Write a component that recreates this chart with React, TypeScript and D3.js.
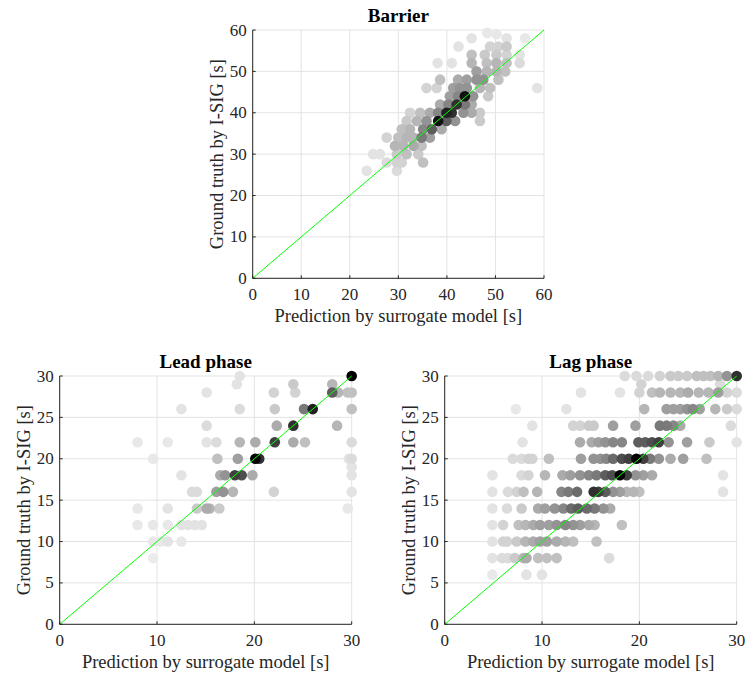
import React from "react";
import * as d3 from "d3";

// [prediction, ground truth, shade (0 light .. 1 dark)]
const barrierPoints: [number, number, number][] = [
  [48.3, 59.3, 0.05], [50.2, 59, 0.05],
  [45.1, 58, 0.1], [52.3, 58, 0.1], [56.1, 58, 0.05],
  [42.4, 56, 0.1], [48.9, 56, 0.2], [50.6, 56, 0.2], [52.3, 56, 0.25],
  [45.1, 54, 0.3], [47.8, 54, 0.25], [50.2, 54, 0.25], [52.3, 54, 0.2], [55, 54, 0.1],
  [38.1, 52, 0.1], [41, 52, 0.1], [45.1, 52, 0.35], [48.2, 52, 0.3], [50.2, 52, 0.35], [52.3, 52, 0.3], [55, 52, 0.15],
  [46.1, 50, 0.45], [48.2, 50, 0.35], [50.2, 50, 0.35], [52.0, 50, 0.3],
  [38.6, 48, 0.3], [42.3, 48, 0.4], [44.1, 48, 0.45], [46.1, 48, 0.5], [47.5, 48, 0.5], [50.6, 48, 0.3],
  [35.8, 46, 0.2], [37.9, 46, 0.2], [41.3, 46, 0.45], [42.7, 46, 0.5], [44.1, 46, 0.5], [46.8, 46, 0.35], [48.9, 46, 0.3], [58.6, 46, 0.1],
  [40.6, 44, 0.45], [42.3, 44, 0.55], [43.7, 44, 0.95], [45.4, 44, 0.5], [48.5, 44, 0.25],
  [38.6, 42, 0.4], [40.3, 42, 0.55], [42.0, 42, 0.85], [43.7, 42, 0.6], [45.1, 42, 0.4],
  [32.4, 40, 0.2], [34.5, 40, 0.3], [36.5, 40, 0.4], [38.2, 40, 0.55], [39.9, 40, 0.9], [41, 40, 0.85], [43.4, 40, 0.5], [45.1, 40, 0.4], [46.8, 40, 0.25],
  [31.7, 38, 0.25], [33.8, 38, 0.35], [35.8, 38, 0.5], [38.2, 38, 0.95], [39.9, 38, 0.7], [41.7, 38, 0.5], [46.8, 38, 0.25],
  [30.7, 36, 0.3], [32.4, 36, 0.35], [35.1, 36, 0.55], [36.9, 36, 0.7], [38.9, 36, 0.4],
  [27.6, 34, 0.2], [30.0, 34, 0.3], [31.7, 34, 0.35], [33.1, 34, 0.35], [34.8, 34, 0.6], [36.5, 34, 0.45],
  [29.3, 32, 0.35], [31.0, 32, 0.35], [33.1, 32, 0.4], [34.8, 32, 0.3],
  [24.8, 30, 0.1], [26.2, 30, 0.1], [29.7, 30, 0.25], [31.7, 30, 0.3], [34.1, 30, 0.25],
  [27.6, 28, 0.15], [29.7, 28, 0.2], [30.7, 28, 0.2], [35.1, 28, 0.3],
  [23.5, 26, 0.1], [29.7, 26, 0.15],
];

const leadPoints: [number, number, number][] = [
  [18.5, 30, 0.1], [30, 30, 1.0],
  [18.2, 29, 0.1], [24, 29, 0.25], [28, 29, 0.35],
  [15.1, 28, 0.1], [22, 28, 0.2], [24.2, 28, 0.2], [28, 28, 0.7], [28.6, 28, 0.35], [29.6, 28, 0.3], [30, 28, 0.3],
  [12.5, 26, 0.1], [18.5, 26, 0.15], [22.1, 26, 0.25], [25.1, 26, 0.6], [26, 26, 0.9], [30, 26, 0.3],
  [15.1, 24, 0.15], [22.3, 24, 0.4], [24, 24, 0.85], [28.5, 24, 0.35],
  [8, 22, 0.05], [11.1, 22, 0.05], [15.1, 22, 0.1], [16.1, 22, 0.15], [18.5, 22, 0.35], [20.1, 22, 0.4], [22.1, 22, 0.8], [24, 22, 0.4], [25.2, 22, 0.3], [30, 22, 0.15],
  [9.6, 20, 0.05], [16.2, 20, 0.3], [18.3, 20, 0.45], [20.5, 20, 0.85], [20.1, 20, 1.0], [29.7, 20, 0.1], [30, 20, 0.15],
  [30, 19, 0.1],
  [12.5, 18, 0.1], [16.5, 18, 0.4], [17, 18, 0.5], [18, 18, 0.8], [18.7, 18, 0.75], [19.8, 18, 0.4], [30, 18, 0.1],
  [13.6, 16, 0.15], [14.1, 16, 0.15], [16.1, 16, 0.45], [16.8, 16, 0.5], [17.8, 16, 0.35], [22, 16, 0.2], [30, 16, 0.1],
  [8, 14, 0.05], [11.1, 14, 0.1], [14.1, 14, 0.25], [15.1, 14, 0.4], [15.4, 14, 0.35], [16.4, 14, 0.25], [29.6, 14, 0.05],
  [8, 12, 0.05], [9.6, 12, 0.05], [11.1, 12, 0.05], [12.5, 12, 0.1], [13.2, 12, 0.1], [13.9, 12, 0.1], [14.6, 12, 0.1],
  [9.6, 10, 0.05], [10.4, 10, 0.05], [11.1, 10, 0.1], [12.5, 10, 0.05],
  [9.6, 8, 0.02],
];

const lagPoints: [number, number, number][] = [
  [18.5, 30, 0.15], [19.7, 30, 0.15], [20.9, 30, 0.15], [22.1, 30, 0.2], [23.2, 30, 0.25], [24.0, 30, 0.25], [24.9, 30, 0.25], [25.9, 30, 0.3], [26.6, 30, 0.3], [27.3, 30, 0.3], [28.1, 30, 0.35], [29.0, 30, 0.5], [30, 30, 0.85],
  [20.2, 29, 0.2], [28.3, 29, 0.15],
  [14.0, 28, 0.1], [18.0, 28, 0.1], [20.0, 28, 0.2], [21.3, 28, 0.3], [22.1, 28, 0.35], [23.2, 28, 0.35], [24.2, 28, 0.35], [25.0, 28, 0.4], [26.1, 28, 0.35], [27.1, 28, 0.35], [28.1, 28, 0.45], [29, 28, 0.2], [30, 28, 0.15],
  [7.3, 26, 0.05], [12.5, 26, 0.1], [20.5, 26, 0.35], [22.8, 26, 0.45], [23.5, 26, 0.45], [24.2, 26, 0.45], [24.9, 26, 0.5], [25.5, 26, 0.55], [26.2, 26, 0.45], [27.8, 26, 0.35], [29, 26, 0.25], [30, 26, 0.15],
  [9.0, 24, 0.1], [13.2, 24, 0.2], [13.9, 24, 0.2], [14.8, 24, 0.25], [15.3, 24, 0.25], [17.3, 24, 0.45], [19.6, 24, 0.45], [22.1, 24, 0.6], [22.8, 24, 0.6], [23.5, 24, 0.55], [24.2, 24, 0.4], [29.4, 24, 0.15],
  [8.0, 22, 0.1], [13.9, 22, 0.4], [15.1, 22, 0.4], [15.8, 22, 0.45], [16.5, 22, 0.5], [17.3, 22, 0.55], [18.2, 22, 0.55], [19.9, 22, 0.7], [20.6, 22, 0.7], [21.3, 22, 0.75], [22.0, 22, 0.8], [23.0, 22, 0.5], [24.9, 22, 0.45], [27.2, 22, 0.25], [30, 22, 0.1],
  [7.0, 20, 0.15], [7.9, 20, 0.15], [8.6, 20, 0.2], [9.0, 20, 0.2], [10.7, 20, 0.3], [14.0, 20, 0.45], [15.3, 20, 0.5], [16.0, 20, 0.5], [16.6, 20, 0.55], [17.3, 20, 0.65], [18.2, 20, 0.75], [18.9, 20, 0.8], [19.7, 20, 1.0], [20.4, 20, 0.8], [21.1, 20, 0.6], [22.0, 20, 0.5], [23.2, 20, 0.4], [24.5, 20, 0.45], [26.9, 20, 0.3],
  [4.9, 18, 0.1], [7.9, 18, 0.15], [8.6, 18, 0.2], [10.3, 18, 0.35], [12.1, 18, 0.4], [12.9, 18, 0.45], [13.9, 18, 0.5], [14.8, 18, 0.55], [15.6, 18, 0.6], [16.5, 18, 0.7], [17.2, 18, 0.75], [18.0, 18, 1.0], [18.7, 18, 0.8], [19.6, 18, 0.5], [20.4, 18, 0.45], [21.3, 18, 0.4], [28.6, 18, 0.1],
  [4.9, 16, 0.1], [6.5, 16, 0.15], [7.4, 16, 0.2], [8.1, 16, 0.3], [9.5, 16, 0.35], [12.0, 16, 0.55], [12.7, 16, 0.6], [13.6, 16, 0.65], [15.3, 16, 0.85], [15.8, 16, 0.8], [16.5, 16, 0.7], [17.3, 16, 0.5], [18.0, 16, 0.45], [18.7, 16, 0.35], [19.4, 16, 0.35], [20.0, 16, 0.3], [28.6, 16, 0.1],
  [4.9, 14, 0.1], [6.4, 14, 0.15], [7.9, 14, 0.25], [9.6, 14, 0.4], [10.3, 14, 0.45], [11.3, 14, 0.5], [12.2, 14, 0.55], [13.0, 14, 0.65], [13.7, 14, 0.7], [14.6, 14, 0.65], [15.4, 14, 0.6], [16.3, 14, 0.5], [17.0, 14, 0.4],
  [4.9, 12, 0.1], [6.0, 12, 0.2], [7.6, 12, 0.3], [8.3, 12, 0.35], [9.1, 12, 0.4], [9.8, 12, 0.45], [10.7, 12, 0.45], [11.5, 12, 0.5], [12.4, 12, 0.55], [13.2, 12, 0.5], [13.9, 12, 0.45], [14.8, 12, 0.4], [15.4, 12, 0.35], [18.2, 12, 0.3],
  [4.9, 10, 0.1], [6.0, 10, 0.2], [6.4, 10, 0.2], [7.4, 10, 0.25], [8.3, 10, 0.35], [9.1, 10, 0.4], [9.8, 10, 0.45], [10.5, 10, 0.45], [11.5, 10, 0.4], [12.4, 10, 0.35], [13.2, 10, 0.3], [15.6, 10, 0.3],
  [4.9, 8, 0.1], [5.9, 8, 0.15], [6.5, 8, 0.15], [7.2, 8, 0.25], [8.1, 8, 0.35], [8.4, 8, 0.4], [9.6, 8, 0.3], [10.5, 8, 0.3], [11.5, 8, 0.3], [16.9, 8, 0.15],
  [4.9, 6, 0.05], [8.4, 6, 0.1], [10.0, 6, 0.1],
];

const barrierTicks = [0, 10, 20, 30, 40, 50, 60];
const phaseXTicks = [0, 10, 20, 30];
const phaseYTicks = [0, 5, 10, 15, 20, 25, 30];

const titles = ["Barrier", "Lead phase", "Lag phase"];
const xLabel = "Prediction by surrogate model [s]";
const yLabel = "Ground truth by I-SIG [s]";

const FONT = "'Liberation Serif', 'Times New Roman', serif";
const shadeT = d3.scalePow().exponent(1.4).domain([0, 1]).range([0, 1]);
const shadeC = d3.scaleLinear<string>().domain([0, 1]).range(["#ececec", "#000000"]);
const shade = (d: number) => shadeC(shadeT(d));

type PanelProps = {
  left: number; right: number; top: number; bottom: number;
  max: number; xTicks: number[]; yTicks: number[];
  points: [number, number, number][]; title: string;
};

function Panel({ left, right, top, bottom, max, xTicks, yTicks, points, title }: PanelProps) {
  const x = d3.scaleLinear().domain([0, max]).range([left, right]);
  const y = d3.scaleLinear().domain([0, max]).range([bottom, top]);
  const sorted = [...points].sort((a, b) => a[2] - b[2]);
  const axisColor = "#262626";
  const tickLen = 3;
  return (
    <g>
      {xTicks.map((t) => (
        <line key={"gx" + t} x1={x(t)} x2={x(t)} y1={top} y2={bottom} stroke="#e3e3e3" strokeWidth={1} />
      ))}
      {yTicks.map((t) => (
        <line key={"gy" + t} x1={left} x2={right} y1={y(t)} y2={y(t)} stroke="#e3e3e3" strokeWidth={1} />
      ))}
      {sorted.map((p, i) => (
        <circle key={i} cx={x(p[0])} cy={y(p[1])} r={5.3} fill={shade(p[2])} />
      ))}
      <line x1={x(0)} y1={y(0)} x2={x(max)} y2={y(max)} stroke="#00ff00" strokeWidth={1} />
      <line x1={left} x2={left} y1={top} y2={bottom} stroke={axisColor} strokeWidth={1} />
      <line x1={left} x2={right} y1={bottom} y2={bottom} stroke={axisColor} strokeWidth={1} />
      {xTicks.map((t) => (
        <g key={"tx" + t}>
          <line x1={x(t)} x2={x(t)} y1={bottom} y2={bottom - tickLen} stroke={axisColor} />
          <text x={x(t)} y={bottom + 22} textAnchor="middle" fontSize={17} fill={axisColor} fontFamily={FONT}>{t}</text>
        </g>
      ))}
      {yTicks.map((t) => (
        <g key={"ty" + t}>
          <line x1={left} x2={left + tickLen} y1={y(t)} y2={y(t)} stroke={axisColor} />
          <text x={left - 6} y={y(t) + 5.5} textAnchor="end" fontSize={17} fill={axisColor} fontFamily={FONT}>{t}</text>
        </g>
      ))}
      <text x={(left + right) / 2} y={top - 8} textAnchor="middle" fontSize={19} fontWeight="bold" fill="#000" fontFamily={FONT}>{title}</text>
      <text x={(left + right) / 2} y={bottom + 44} textAnchor="middle" fontSize={18.5} fill={axisColor} fontFamily={FONT}>{xLabel}</text>
      <text transform={`translate(${left - 30},${(top + bottom) / 2}) rotate(-90)`} textAnchor="middle" fontSize={18.5} fill={axisColor} fontFamily={FONT}>{yLabel}</text>
    </g>
  );
}

export default function App() {
  return (
    <svg width={745} height={679} style={{ position: "absolute", left: 0, top: 0, background: "#fff" }}>
      <rect width={745} height={679} fill="#fff" />
      <Panel left={252.7} right={544} top={30} bottom={278.3} max={60} xTicks={barrierTicks} yTicks={barrierTicks} points={barrierPoints} title={titles[0]} />
      <Panel left={59.7} right={351.7} top={376} bottom={624.3} max={30} xTicks={phaseXTicks} yTicks={phaseYTicks} points={leadPoints} title={titles[1]} />
      <Panel left={444.7} right={736.7} top={376} bottom={624.3} max={30} xTicks={phaseXTicks} yTicks={phaseYTicks} points={lagPoints} title={titles[2]} />
    </svg>
  );
}
